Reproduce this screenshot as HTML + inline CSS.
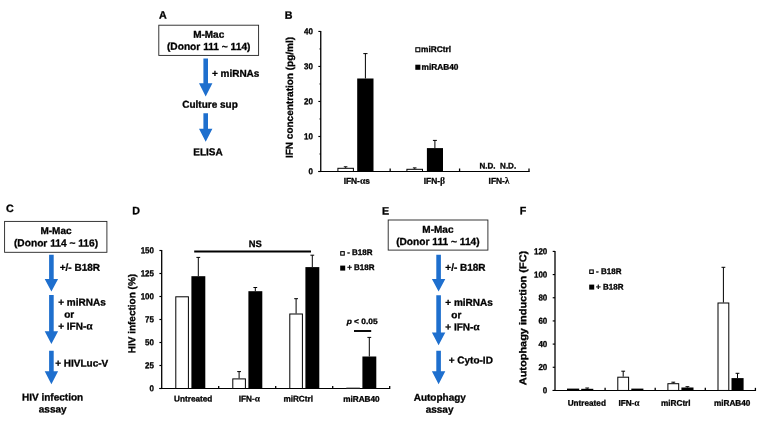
<!DOCTYPE html>
<html lang="en">
<head>
<meta charset="utf-8">
<title>Figure</title>
<style>
html,body{margin:0;padding:0;background:#fff;}
body{width:767px;height:424px;overflow:hidden;}
svg{display:block;}
svg .g{font-family:"Liberation Serif",serif;font-size:115%;stroke-width:0.15px;}
svg text{font-family:"Liberation Sans",sans-serif;fill:#000;stroke:#000;stroke-width:0.3px;}
</style>
</head>
<body>
<svg width="767" height="424" viewBox="0 0 767 424">
<rect width="767" height="424" fill="#fff"/>
<text x="159.0" y="18.4" transform="rotate(0.04 159.0 18.4)" font-size="10.7" text-anchor="start" font-weight="bold" >A</text>
<rect x="158.8" y="25.2" width="99.80" height="30.20" fill="#fff" stroke="#222" stroke-width="0.9"/>
<text x="208.7" y="37.7" transform="rotate(0.04 208.7 37.7)" font-size="10" text-anchor="middle" font-weight="bold" >M-Mac</text>
<text x="208.7" y="49.9" transform="rotate(0.04 208.7 49.9)" font-size="10.2" text-anchor="middle" font-weight="bold" >(Donor 111 ~ 114)</text>
<path d="M203.40 58.5H208.00V83.2H212.40L205.70 96.4L199.00 83.2H203.40Z" fill="#1e6fce"/>
<text x="211.9" y="76.7" transform="rotate(0.04 211.9 76.7)" font-size="10" text-anchor="start" font-weight="bold" >+ miRNAs</text>
<text x="210.0" y="107.8" transform="rotate(0.04 210.0 107.8)" font-size="10" text-anchor="middle" font-weight="bold" >Culture sup</text>
<path d="M203.40 113.3H208.00V128.7H212.40L205.70 141.8L199.00 128.7H203.40Z" fill="#1e6fce"/>
<text x="208.0" y="155.3" transform="rotate(0.04 208.0 155.3)" font-size="10" text-anchor="middle" font-weight="bold" >ELISA</text>
<text x="284.8" y="18.7" transform="rotate(0.04 284.8 18.7)" font-size="10.7" text-anchor="start" font-weight="bold" >B</text>
<text transform="translate(292.9 97.5) rotate(-89.96)" font-size="10" text-anchor="middle" font-weight="bold">IFN concentration (pg/ml)</text>
<path d="M320.75 30.95V172.00" stroke="#000" stroke-width="1.3" fill="none"/>
<path d="M318.35 171.50H529.40" stroke="#000" stroke-width="1.15" fill="none"/>
<path d="M318.35 171.50H320.75" stroke="#000" stroke-width="1.15" fill="none"/>
<text x="313.0" y="174.35" transform="rotate(0.04 313.0 174.35)" font-size="8.6" text-anchor="end" font-weight="bold" textLength="4.45" lengthAdjust="spacingAndGlyphs">0</text>
<path d="M319.35 153.99H320.75" stroke="#000" stroke-width="0.8" fill="none"/>
<path d="M318.35 136.49H320.75" stroke="#000" stroke-width="1.15" fill="none"/>
<text x="313.0" y="139.34" transform="rotate(0.04 313.0 139.34)" font-size="8.6" text-anchor="end" font-weight="bold" textLength="8.90" lengthAdjust="spacingAndGlyphs">10</text>
<path d="M319.35 118.98H320.75" stroke="#000" stroke-width="0.8" fill="none"/>
<path d="M318.35 101.47H320.75" stroke="#000" stroke-width="1.15" fill="none"/>
<text x="313.0" y="104.32" transform="rotate(0.04 313.0 104.32)" font-size="8.6" text-anchor="end" font-weight="bold" textLength="8.90" lengthAdjust="spacingAndGlyphs">20</text>
<path d="M319.35 83.97H320.75" stroke="#000" stroke-width="0.8" fill="none"/>
<path d="M318.35 66.46H320.75" stroke="#000" stroke-width="1.15" fill="none"/>
<text x="313.0" y="69.31" transform="rotate(0.04 313.0 69.31)" font-size="8.6" text-anchor="end" font-weight="bold" textLength="8.90" lengthAdjust="spacingAndGlyphs">30</text>
<path d="M319.35 48.96H320.75" stroke="#000" stroke-width="0.8" fill="none"/>
<path d="M318.35 31.45H320.75" stroke="#000" stroke-width="1.15" fill="none"/>
<text x="313.0" y="34.30" transform="rotate(0.04 313.0 34.30)" font-size="8.6" text-anchor="end" font-weight="bold" textLength="8.90" lengthAdjust="spacingAndGlyphs">40</text>
<path d="M390.17 168.50V172.00" stroke="#000" stroke-width="1.3" fill="none"/>
<path d="M459.58 168.50V172.00" stroke="#000" stroke-width="1.3" fill="none"/>
<path d="M529.00 168.50V172.00" stroke="#000" stroke-width="1.3" fill="none"/>
<rect x="337.90" y="168.30" width="15.50" height="3.20" fill="#fff" stroke="#000" stroke-width="1.0"/>
<path d="M345.60 167.80V166.80M343.80 166.80H347.40" stroke="#000" stroke-width="1.0" fill="none"/>
<rect x="357.20" y="78.50" width="16.30" height="93.00" fill="#000"/>
<path d="M365.40 78.50V53.60M363.30 53.60H367.50" stroke="#000" stroke-width="1.0" fill="none"/>
<rect x="406.90" y="169.30" width="15.60" height="2.20" fill="#fff" stroke="#000" stroke-width="1.0"/>
<path d="M414.70 168.80V167.90M412.90 167.90H416.50" stroke="#000" stroke-width="1.0" fill="none"/>
<rect x="426.90" y="148.10" width="16.10" height="23.40" fill="#000"/>
<path d="M434.90 148.10V140.40M432.90 140.40H436.90" stroke="#000" stroke-width="1.0" fill="none"/>
<text x="356.8" y="183.7" transform="rotate(0.04 356.8 183.7)" font-size="8.4" text-anchor="middle" font-weight="bold" >IFN-<tspan class="g">α</tspan>s</text>
<text x="434.4" y="183.7" transform="rotate(0.04 434.4 183.7)" font-size="8.4" text-anchor="middle" font-weight="bold" >IFN-<tspan class="g">β</tspan></text>
<text x="499.1" y="183.7" transform="rotate(0.04 499.1 183.7)" font-size="8.4" text-anchor="middle" font-weight="bold" >IFN-<tspan class="g">λ</tspan></text>
<text x="479.5" y="168.4" transform="rotate(0.04 479.5 168.4)" font-size="8.05" text-anchor="start" font-weight="bold" xml:space="preserve">N.D.  N.D.</text>
<rect x="415.85" y="47.75" width="4.00" height="4.00" fill="#fff" stroke="#000" stroke-width="1.1"/>
<text x="421.1" y="51.9" transform="rotate(0.04 421.1 51.9)" font-size="8.3" text-anchor="start" font-weight="bold" >miRCtrl</text>
<rect x="415.30" y="64.70" width="5.1" height="5.1" fill="#000"/>
<text x="421.5" y="69.8" transform="rotate(0.04 421.5 69.8)" font-size="8.3" text-anchor="start" font-weight="bold" >miRAB40</text>
<text x="5.9" y="212.0" transform="rotate(0.04 5.9 212.0)" font-size="10.7" text-anchor="start" font-weight="bold" >C</text>
<rect x="4.6" y="221.4" width="102.30" height="30.90" fill="#fff" stroke="#222" stroke-width="0.9"/>
<text x="56.0" y="234.0" transform="rotate(0.04 56.0 234.0)" font-size="10" text-anchor="middle" font-weight="bold" >M-Mac</text>
<text x="56.0" y="246.4" transform="rotate(0.04 56.0 246.4)" font-size="10.2" text-anchor="middle" font-weight="bold" >(Donor 114 ~ 116)</text>
<path d="M49.10 254.8H53.70V278.9H58.10L51.40 291.6L44.70 278.9H49.10Z" fill="#1e6fce"/>
<text x="59.7" y="270.7" transform="rotate(0.04 59.7 270.7)" font-size="10" text-anchor="start" font-weight="bold" >+/- B18R</text>
<path d="M49.10 295.0H53.70V331.2H58.10L51.40 343.9L44.70 331.2H49.10Z" fill="#1e6fce"/>
<text x="58.2" y="305.5" transform="rotate(0.04 58.2 305.5)" font-size="10" text-anchor="start" font-weight="bold" >+ miRNAs</text>
<text x="64.2" y="317.8" transform="rotate(0.04 64.2 317.8)" font-size="10" text-anchor="start" font-weight="bold" >or</text>
<text x="58.2" y="329.5" transform="rotate(0.04 58.2 329.5)" font-size="10" text-anchor="start" font-weight="bold" >+ IFN-<tspan class="g">α</tspan></text>
<path d="M49.10 350.7H53.70V371.2H58.10L51.40 384.2L44.70 371.2H49.10Z" fill="#1e6fce"/>
<text x="55.2" y="366.6" transform="rotate(0.04 55.2 366.6)" font-size="10" text-anchor="start" font-weight="bold" >+ HIVLuc-V</text>
<text x="52.6" y="400.5" transform="rotate(0.04 52.6 400.5)" font-size="10" text-anchor="middle" font-weight="bold" >HIV infection</text>
<text x="52.7" y="412.6" transform="rotate(0.04 52.7 412.6)" font-size="10" text-anchor="middle" font-weight="bold" >assay</text>
<text x="132.2" y="214.2" transform="rotate(0.04 132.2 214.2)" font-size="10.7" text-anchor="start" font-weight="bold" >D</text>
<text transform="translate(135.2 313.6) rotate(-89.96)" font-size="10" text-anchor="middle" font-weight="bold">HIV infection (%)</text>
<path d="M161.70 250.00V389.00" stroke="#000" stroke-width="1.3" fill="none"/>
<path d="M159.40 388.50H390.00" stroke="#000" stroke-width="1.15" fill="none"/>
<path d="M159.40 388.50H161.70" stroke="#000" stroke-width="1.15" fill="none"/>
<text x="154.0" y="391.35" transform="rotate(0.04 154.0 391.35)" font-size="8.6" text-anchor="end" font-weight="bold" textLength="4.45" lengthAdjust="spacingAndGlyphs">0</text>
<path d="M159.40 365.50H161.70" stroke="#000" stroke-width="1.15" fill="none"/>
<text x="154.0" y="368.35" transform="rotate(0.04 154.0 368.35)" font-size="8.6" text-anchor="end" font-weight="bold" textLength="8.90" lengthAdjust="spacingAndGlyphs">25</text>
<path d="M159.40 342.50H161.70" stroke="#000" stroke-width="1.15" fill="none"/>
<text x="154.0" y="345.35" transform="rotate(0.04 154.0 345.35)" font-size="8.6" text-anchor="end" font-weight="bold" textLength="8.90" lengthAdjust="spacingAndGlyphs">50</text>
<path d="M159.40 319.50H161.70" stroke="#000" stroke-width="1.15" fill="none"/>
<text x="154.0" y="322.35" transform="rotate(0.04 154.0 322.35)" font-size="8.6" text-anchor="end" font-weight="bold" textLength="8.90" lengthAdjust="spacingAndGlyphs">75</text>
<path d="M159.40 296.50H161.70" stroke="#000" stroke-width="1.15" fill="none"/>
<text x="154.0" y="299.35" transform="rotate(0.04 154.0 299.35)" font-size="8.6" text-anchor="end" font-weight="bold" textLength="13.35" lengthAdjust="spacingAndGlyphs">100</text>
<path d="M159.40 273.50H161.70" stroke="#000" stroke-width="1.15" fill="none"/>
<text x="154.0" y="276.35" transform="rotate(0.04 154.0 276.35)" font-size="8.6" text-anchor="end" font-weight="bold" textLength="13.35" lengthAdjust="spacingAndGlyphs">125</text>
<path d="M159.40 250.50H161.70" stroke="#000" stroke-width="1.15" fill="none"/>
<text x="154.0" y="253.35" transform="rotate(0.04 154.0 253.35)" font-size="8.6" text-anchor="end" font-weight="bold" textLength="13.35" lengthAdjust="spacingAndGlyphs">150</text>
<path d="M218.70 385.90V389.00" stroke="#000" stroke-width="1.3" fill="none"/>
<path d="M275.70 385.90V389.00" stroke="#000" stroke-width="1.3" fill="none"/>
<path d="M332.70 385.90V389.00" stroke="#000" stroke-width="1.3" fill="none"/>
<path d="M389.70 385.90V389.00" stroke="#000" stroke-width="1.3" fill="none"/>
<rect x="175.80" y="296.80" width="12.60" height="91.70" fill="#fff" stroke="#000" stroke-width="1.0"/>
<rect x="191.40" y="276.20" width="13.90" height="112.30" fill="#000"/>
<path d="M198.30 276.20V257.40M196.40 257.40H200.20" stroke="#000" stroke-width="1.0" fill="none"/>
<rect x="232.80" y="378.90" width="12.60" height="9.60" fill="#fff" stroke="#000" stroke-width="1.0"/>
<path d="M239.10 378.40V371.60M237.20 371.60H241.00" stroke="#000" stroke-width="1.0" fill="none"/>
<rect x="248.40" y="291.20" width="13.90" height="97.30" fill="#000"/>
<path d="M255.30 291.20V287.50M253.40 287.50H257.20" stroke="#000" stroke-width="1.0" fill="none"/>
<rect x="289.80" y="314.00" width="12.60" height="74.50" fill="#fff" stroke="#000" stroke-width="1.0"/>
<path d="M296.10 313.50V298.70M294.20 298.70H298.00" stroke="#000" stroke-width="1.0" fill="none"/>
<rect x="305.40" y="267.10" width="13.90" height="121.40" fill="#000"/>
<path d="M312.30 267.10V255.20M310.40 255.20H314.20" stroke="#000" stroke-width="1.0" fill="none"/>
<rect x="346.30" y="387.2" width="13.6" height="1" fill="#999"/>
<rect x="362.40" y="356.50" width="13.90" height="32.00" fill="#000"/>
<path d="M369.30 356.50V337.40M367.40 337.40H371.20" stroke="#000" stroke-width="1.0" fill="none"/>
<text x="193.2" y="401.5" transform="rotate(0.04 193.2 401.5)" font-size="8.2" text-anchor="middle" font-weight="bold" >Untreated</text>
<text x="249.3" y="401.5" transform="rotate(0.04 249.3 401.5)" font-size="8.2" text-anchor="middle" font-weight="bold" >IFN-<tspan class="g">α</tspan></text>
<text x="298.2" y="401.5" transform="rotate(0.04 298.2 401.5)" font-size="8.2" text-anchor="middle" font-weight="bold" >miRCtrl</text>
<text x="361.4" y="401.8" transform="rotate(0.04 361.4 401.8)" font-size="8.2" text-anchor="middle" font-weight="bold" >miRAB40</text>
<path d="M194.20 251.60H311.00" stroke="#000" stroke-width="2.0" fill="none"/>
<text x="255.3" y="247.0" transform="rotate(0.04 255.3 247.0)" font-size="9.4" text-anchor="middle" font-weight="bold" >NS</text>
<path d="M354.00 331.00H371.20" stroke="#000" stroke-width="1.9" fill="none"/>
<text x="346.7" y="324.1" transform="rotate(0.04 346.7 324.1)" font-size="7.8" font-weight="bold" textLength="30.9" lengthAdjust="spacingAndGlyphs"><tspan font-style="italic">p</tspan> &lt; 0.05</text>
<rect x="340.75" y="251.65" width="3.50" height="3.50" fill="#fff" stroke="#000" stroke-width="1.1"/>
<text x="347.2" y="254.9" transform="rotate(0.04 347.2 254.9)" font-size="8" text-anchor="start" font-weight="bold" >- B18R</text>
<rect x="340.20" y="265.60" width="5.0" height="5.0" fill="#000"/>
<text x="347.2" y="269.9" transform="rotate(0.04 347.2 269.9)" font-size="8" text-anchor="start" font-weight="bold" >+ B18R</text>
<text x="382.0" y="214.5" transform="rotate(0.04 382.0 214.5)" font-size="10.7" text-anchor="start" font-weight="bold" >E</text>
<rect x="388.2" y="220.0" width="99.70" height="30.10" fill="#fff" stroke="#222" stroke-width="0.9"/>
<text x="437.9" y="232.7" transform="rotate(0.04 437.9 232.7)" font-size="10" text-anchor="middle" font-weight="bold" >M-Mac</text>
<text x="437.9" y="245.1" transform="rotate(0.04 437.9 245.1)" font-size="10.2" text-anchor="middle" font-weight="bold" >(Donor 111 ~ 114)</text>
<path d="M436.30 254.8H440.90V278.9H445.30L438.60 291.6L431.90 278.9H436.30Z" fill="#1e6fce"/>
<text x="445.3" y="270.7" transform="rotate(0.04 445.3 270.7)" font-size="10" text-anchor="start" font-weight="bold" >+/- B18R</text>
<path d="M436.30 295.3H440.90V332.4H445.30L438.60 345.2L431.90 332.4H436.30Z" fill="#1e6fce"/>
<text x="445.3" y="305.7" transform="rotate(0.04 445.3 305.7)" font-size="10" text-anchor="start" font-weight="bold" >+ miRNAs</text>
<text x="451.3" y="318.2" transform="rotate(0.04 451.3 318.2)" font-size="10" text-anchor="start" font-weight="bold" >or</text>
<text x="445.3" y="330.3" transform="rotate(0.04 445.3 330.3)" font-size="10" text-anchor="start" font-weight="bold" >+ IFN-<tspan class="g">α</tspan></text>
<path d="M436.30 350.7H440.90V371.2H445.30L438.60 384.2L431.90 371.2H436.30Z" fill="#1e6fce"/>
<text x="448.7" y="363.5" transform="rotate(0.04 448.7 363.5)" font-size="10" text-anchor="start" font-weight="bold" >+ Cyto-ID</text>
<text x="439.8" y="400.8" transform="rotate(0.04 439.8 400.8)" font-size="10" text-anchor="middle" font-weight="bold" >Autophagy</text>
<text x="439.6" y="412.8" transform="rotate(0.04 439.6 412.8)" font-size="10" text-anchor="middle" font-weight="bold" >assay</text>
<text x="519.8" y="214.2" transform="rotate(0.04 519.8 214.2)" font-size="10.7" text-anchor="start" font-weight="bold" >F</text>
<text transform="translate(526.2 318.0) rotate(-89.96)" font-size="9.9" text-anchor="middle" font-weight="bold" textLength="134.5" lengthAdjust="spacingAndGlyphs">Autophagy induction (FC)</text>
<path d="M555.00 250.90V390.95" stroke="#000" stroke-width="1.3" fill="none"/>
<path d="M552.70 390.45H755.80" stroke="#000" stroke-width="1.15" fill="none"/>
<path d="M552.70 390.45H555.00" stroke="#000" stroke-width="1.15" fill="none"/>
<text x="547.3" y="393.30" transform="rotate(0.04 547.3 393.30)" font-size="8.6" text-anchor="end" font-weight="bold" textLength="4.45" lengthAdjust="spacingAndGlyphs">0</text>
<path d="M552.70 367.27H555.00" stroke="#000" stroke-width="1.15" fill="none"/>
<text x="547.3" y="370.12" transform="rotate(0.04 547.3 370.12)" font-size="8.6" text-anchor="end" font-weight="bold" textLength="8.90" lengthAdjust="spacingAndGlyphs">20</text>
<path d="M552.70 344.10H555.00" stroke="#000" stroke-width="1.15" fill="none"/>
<text x="547.3" y="346.95" transform="rotate(0.04 547.3 346.95)" font-size="8.6" text-anchor="end" font-weight="bold" textLength="8.90" lengthAdjust="spacingAndGlyphs">40</text>
<path d="M552.70 320.93H555.00" stroke="#000" stroke-width="1.15" fill="none"/>
<text x="547.3" y="323.78" transform="rotate(0.04 547.3 323.78)" font-size="8.6" text-anchor="end" font-weight="bold" textLength="8.90" lengthAdjust="spacingAndGlyphs">60</text>
<path d="M552.70 297.75H555.00" stroke="#000" stroke-width="1.15" fill="none"/>
<text x="547.3" y="300.60" transform="rotate(0.04 547.3 300.60)" font-size="8.6" text-anchor="end" font-weight="bold" textLength="8.90" lengthAdjust="spacingAndGlyphs">80</text>
<path d="M552.70 274.57H555.00" stroke="#000" stroke-width="1.15" fill="none"/>
<text x="547.3" y="277.43" transform="rotate(0.04 547.3 277.43)" font-size="8.6" text-anchor="end" font-weight="bold" textLength="13.35" lengthAdjust="spacingAndGlyphs">100</text>
<path d="M552.70 251.40H555.00" stroke="#000" stroke-width="1.15" fill="none"/>
<text x="547.3" y="254.25" transform="rotate(0.04 547.3 254.25)" font-size="8.6" text-anchor="end" font-weight="bold" textLength="13.35" lengthAdjust="spacingAndGlyphs">120</text>
<path d="M605.10 387.85V390.95" stroke="#000" stroke-width="1.3" fill="none"/>
<path d="M655.20 387.85V390.95" stroke="#000" stroke-width="1.3" fill="none"/>
<path d="M705.30 387.85V390.95" stroke="#000" stroke-width="1.3" fill="none"/>
<path d="M755.40 387.85V390.95" stroke="#000" stroke-width="1.3" fill="none"/>
<rect x="567.00" y="388.60" width="12.2" height="1.85" fill="#000"/>
<rect x="581.20" y="388.80" width="12.10" height="1.65" fill="#000"/>
<path d="M587.20 388.80V388.00M585.30 388.00H589.10" stroke="#000" stroke-width="1.0" fill="none"/>
<rect x="617.80" y="377.20" width="10.80" height="13.25" fill="#fff" stroke="#000" stroke-width="1.0"/>
<path d="M623.20 376.70V371.20M621.30 371.20H625.10" stroke="#000" stroke-width="1.0" fill="none"/>
<rect x="631.30" y="388.60" width="12.10" height="1.85" fill="#000"/>
<rect x="667.90" y="383.70" width="10.80" height="6.75" fill="#fff" stroke="#000" stroke-width="1.0"/>
<path d="M673.30 383.20V382.20M671.40 382.20H675.20" stroke="#000" stroke-width="1.0" fill="none"/>
<rect x="681.40" y="387.50" width="12.10" height="2.95" fill="#000"/>
<path d="M687.40 387.50V386.70M685.50 386.70H689.30" stroke="#000" stroke-width="1.0" fill="none"/>
<rect x="718.00" y="303.00" width="10.80" height="87.45" fill="#fff" stroke="#000" stroke-width="1.0"/>
<path d="M723.40 302.50V267.30M721.50 267.30H725.30" stroke="#000" stroke-width="1.0" fill="none"/>
<rect x="731.50" y="378.10" width="12.10" height="12.35" fill="#000"/>
<path d="M737.50 378.10V373.30M735.60 373.30H739.40" stroke="#000" stroke-width="1.0" fill="none"/>
<text x="586.8" y="405.7" transform="rotate(0.04 586.8 405.7)" font-size="8.2" text-anchor="middle" font-weight="bold" >Untreated</text>
<text x="629.0" y="405.7" transform="rotate(0.04 629.0 405.7)" font-size="8.2" text-anchor="middle" font-weight="bold" >IFN-<tspan class="g">α</tspan></text>
<text x="675.8" y="405.7" transform="rotate(0.04 675.8 405.7)" font-size="8.2" text-anchor="middle" font-weight="bold" >miRCtrl</text>
<text x="732.2" y="405.7" transform="rotate(0.04 732.2 405.7)" font-size="8.2" text-anchor="middle" font-weight="bold" >miRAB40</text>
<rect x="589.75" y="269.95" width="3.50" height="3.50" fill="#fff" stroke="#000" stroke-width="1.1"/>
<text x="596.1" y="273.9" transform="rotate(0.04 596.1 273.9)" font-size="8" text-anchor="start" font-weight="bold" >- B18R</text>
<rect x="589.20" y="284.60" width="5.0" height="5.0" fill="#000"/>
<text x="596.1" y="289.6" transform="rotate(0.04 596.1 289.6)" font-size="8" text-anchor="start" font-weight="bold" >+ B18R</text>
</svg>
</body>
</html>
